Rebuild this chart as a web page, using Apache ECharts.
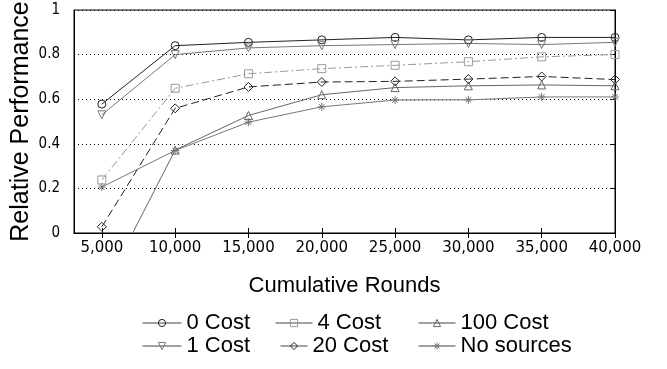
<!DOCTYPE html>
<html><head><meta charset="utf-8">
<script src="https://cdn.jsdelivr.net/npm/echarts@6/dist/echarts.min.js"></script>
<style>html,body{margin:0;padding:0;background:#fff}#c{width:667px;height:369px}</style>
</head><body><div id="c"></div>
<script>
var rounds = [5000, 10000, 15000, 20000, 25000, 30000, 35000, 40000];
var yTicks = [0, 0.2, 0.4, 0.6, 0.8, 1];
var cost0 = [0.578, 0.84, 0.855, 0.866, 0.877, 0.866, 0.877, 0.877];
var cost1 = [0.53, 0.80, 0.83, 0.84, 0.845, 0.85, 0.845, 0.855];
var cost4 = [0.238, 0.649, 0.714, 0.737, 0.752, 0.768, 0.79, 0.80];
var cost20 = [0.028, 0.559, 0.655, 0.677, 0.68, 0.69, 0.702, 0.688];
var cost100 = [-0.27, 0.372, 0.527, 0.62, 0.652, 0.66, 0.664, 0.66];
var noSources = [0.206, 0.37, 0.497, 0.566, 0.596, 0.597, 0.61, 0.61];
var seriesNames = ['0 Cost', '1 Cost', '4 Cost', '20 Cost', '100 Cost', 'No sources'];

var FONT = 'Liberation Sans';
function pairs(v){ return rounds.map(function(r,i){ return [r, v[i]]; }); }
var ast = 'path://M5,0L5,10M0,5L10,5M1.5,1.5L8.5,8.5M1.5,8.5L8.5,1.5';
var downTri = 'path://M0,0L10,0L5,9Z';
var styles = [
  {v: cost0, sym: 'circle', c: '#222', t: 'solid', size: 8},
  {v: cost1, sym: downTri, c: '#777', t: 'solid', size: 8},
  {v: cost4, sym: 'rect', c: '#999', t: [8,3,2,3], size: 8},
  {v: cost20, sym: 'diamond', c: '#222', t: [8,4], size: 9},
  {v: cost100, sym: 'triangle', c: '#666', t: 'solid', size: 8},
  {v: noSources, sym: ast, c: '#777', t: 'solid', size: 8}
];
var series = styles.map(function(s, i){
  return {
    name: seriesNames[i], type: 'line', data: pairs(s.v),
    symbol: s.sym, symbolSize: s.size, showAllSymbol: true, clip: true,
    color: s.c,
    lineStyle: {color: s.c, width: 1, type: s.t},
    itemStyle: {color: 'rgba(0,0,0,0)', borderColor: s.c, borderWidth: 1},
    emphasis: {disabled: true}, animation: false, z: 3
  };
});
// [left, top, iconWidth]
var legendPos = [[142, 311, 39], [142, 334, 39], [275, 311, 37], [280, 334, 27], [418, 311, 37], [418, 334, 37]];
var legends = seriesNames.map(function(n, i){
  return {
    data: [n], left: legendPos[i][0], top: legendPos[i][1], padding: 0,
    itemWidth: legendPos[i][2], itemHeight: 9, itemGap: 4, selectedMode: false,
    lineStyle: {width: 1, type: 'solid', color: '#444'},
    itemStyle: {borderWidth: 1, color: 'rgba(0,0,0,0)'},
    textStyle: {fontFamily: FONT, fontSize: 22, lineHeight: 24, color: '#000'}
  };
});
var xLabels = rounds;
var chart = echarts.init(document.getElementById('c'), null, {renderer: 'canvas'});
chart.setOption({
  backgroundColor: '#fff',
  animation: false,
  grid: {left: 74, right: 52, top: 10, bottom: 136, show: true, borderColor: '#000', borderWidth: 1,
    backgroundColor: 'transparent', containLabel: false, outerBoundsMode: 'none'},
  legend: legends,
  xAxis: [{
    type: 'value', min: 3100, max: 40000, position: 'bottom',
    name: 'Cumulative Rounds', nameLocation: 'middle', nameGap: 42, nameMoveOverlap: false,
    nameTextStyle: {fontFamily: FONT, fontSize: 22, color: '#000'},
    axisLine: {show: true, lineStyle: {color: '#000', width: 1}},
    axisTick: {show: true, inside: true, length: 5, customValues: xLabels, lineStyle: {color: '#000'}},
    axisLabel: {customValues: xLabels, fontFamily: 'DejaVu Sans', fontSize: 15, color: '#000', margin: 8,
      formatter: function(v){ return v.toLocaleString('en-US'); }},
    splitLine: {show: false}
  }, {
    type: 'value', min: 3100, max: 40000, position: 'top',
    axisLine: {show: true, lineStyle: {color: '#000', width: 1}},
    axisTick: {show: true, inside: true, length: 5, customValues: xLabels, lineStyle: {color: '#000'}},
    axisLabel: {show: false}, splitLine: {show: false}
  }],
  yAxis: [{
    type: 'value', min: 0, max: 1, interval: 0.2, position: 'left',
    name: 'Relative Performance', nameLocation: 'middle', nameGap: 40, nameMoveOverlap: false,
    nameTextStyle: {fontFamily: FONT, fontSize: 25, color: '#000'},
    axisLine: {show: true, lineStyle: {color: '#000', width: 1}},
    axisTick: {show: false},
    axisLabel: {fontFamily: "'Liberation Sans Narrow', 'DejaVu Sans Condensed', 'Liberation Sans'", fontSize: 15, color: '#000', margin: 14,
      formatter: function(v){ return yTicks.indexOf(v) >= 0 ? String(v) : ''; }},
    splitLine: {show: true, lineStyle: {color: '#000', type: [1, 3], width: 1}}
  }, {
    type: 'value', min: 0, max: 1, interval: 0.2, position: 'right',
    axisLine: {show: true, lineStyle: {color: '#000', width: 1}},
    axisTick: {show: true, inside: true, length: 5, lineStyle: {color: '#000'}},
    axisLabel: {show: false}, splitLine: {show: false}
  }],
  series: series
});
</script></body></html>
